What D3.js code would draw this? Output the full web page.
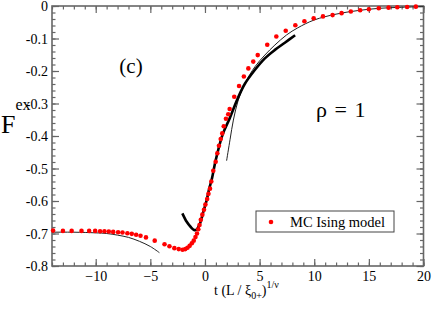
<!DOCTYPE html>
<html>
<head>
<meta charset="utf-8">
<script src="https://cdn.jsdelivr.net/npm/d3@7"></script>
<style>
  body { margin: 0; background: #fff; }
  svg { display: block; }
  text { font-family: 'Liberation Serif', Times, serif; fill: #000; }
</style>
</head>
<body>
<div class="chart"></div>
<script>
// data
const xTicks = [-10, -5, 0, 5, 10, 15, 20];
const yTicks = [0, -0.1, -0.2, -0.3, -0.4, -0.5, -0.6, -0.7, -0.8];
const yTickLabels = ['0', '-0.1', '-0.2', '-0.3', '-0.4', '-0.5', '-0.6', '-0.7', '-0.8'];

// MC Ising model (red dots)
const mcT = [-13.9, -13.0, -12.2, -11.3, -10.6, -10.05, -9.6, -9.2, -8.8, -8.4, -7.95, -7.55, -7.1, -6.7, -6.3, -5.9, -5.4, -4.6,
  -3.7, -3.25, -2.8, -2.4, -2.05, -1.8, -1.6, -1.4, -1.2, -1.03, -0.87, -0.73, -0.61, -0.5, -0.38, -0.24, -0.09,
  0.04, 0.2, 0.32, 0.46, 0.58, 0.76, 0.98, 1.13, 1.28, 1.44, 1.58, 1.72, 1.92, 2.13, 2.26, 2.68, 3.12, 3.56, 3.97,
  4.42, 4.83, 5.7, 6.53, 7.39, 8.27, 9.1, 9.95, 10.8, 11.68, 12.5, 13.35, 14.2, 15.0, 15.9, 16.8, 17.6, 18.5, 19.3];
const mcF = [-0.691, -0.692, -0.692, -0.692, -0.692, -0.692, -0.693, -0.693, -0.694, -0.695, -0.696, -0.697, -0.699, -0.701, -0.704, -0.707, -0.712, -0.722,
  -0.733, -0.739, -0.745, -0.748, -0.750, -0.748, -0.744, -0.738, -0.730, -0.722, -0.711, -0.700, -0.687, -0.674, -0.658, -0.642, -0.627,
  -0.611, -0.594, -0.578, -0.562, -0.540, -0.507, -0.479, -0.453, -0.430, -0.409, -0.392, -0.370, -0.347, -0.333, -0.317, -0.279, -0.246, -0.217, -0.192,
  -0.171, -0.151, -0.119, -0.094, -0.076, -0.059, -0.047, -0.038, -0.032, -0.028, -0.022, -0.017, -0.013, -0.010, -0.007, -0.005, -0.004, -0.003, -0.002];

// thin line, t < 0 branch
const thinLT = [-14, -12, -10, -9, -8, -7, -6, -5, -4.17];
const thinLF = [-0.696, -0.696, -0.698, -0.700, -0.705, -0.712, -0.724, -0.740, -0.759];

// thick line around the critical point
const thickT = [-2.07, -1.67, -1.3, -1.0, -0.8, -0.6, -0.4, -0.15, 0.16, 0.39, 0.61, 1.0, 1.62, 2.27, 3.03, 3.64, 4.56, 5.48, 6.4, 7.31, 8.25];
const thickF = [-0.638, -0.664, -0.680, -0.689, -0.689, -0.680, -0.664, -0.633, -0.597, -0.562, -0.535, -0.472, -0.395, -0.345, -0.282, -0.240, -0.197, -0.161, -0.135, -0.113, -0.090];

// thin line, t > 0 branch
const thinRT = [1.98, 2.3, 2.6, 3.05, 3.66, 4.57, 5.48, 6.4, 7.47, 8.5, 10, 12, 14, 16, 18, 20];
const thinRF = [-0.476, -0.41, -0.351, -0.289, -0.238, -0.187, -0.151, -0.120, -0.089, -0.067, -0.043, -0.025, -0.014, -0.007, -0.004, -0.002];

const zip = (xs, ys) => xs.map((x, i) => ({t: x, f: ys[i]}));
const serif = "'Liberation Serif', Times, serif";

function draw(){
  const svg_width = 432;
  const svg_height = 309;
  const margin = {top: 6, right: 8.5, bottom: 43, left: 52};
  const width = svg_width - margin.left - margin.right;
  const height = svg_height - margin.top - margin.bottom;

  const svg = d3.select('.chart').append('svg')
    .attr('width', svg_width).attr('height', svg_height)
    .attr('font-family', serif);
  const g = svg.append('g').attr('transform', `translate(${margin.left},${margin.top})`);

  const x = d3.scaleLinear().domain([-14, 20]).range([0, width]);
  const y = d3.scaleLinear().domain([-0.8, 0]).range([height, 0]);

  const axisColor = '#666';

  // minor ticks
  const xMinor = d3.range(-14, 21, 1);
  const yMinor = d3.range(0, 41).map(i => -i * 0.02);
  const minor = [
    [d3.axisBottom(x).tickValues(xMinor), `translate(0,${height})`],
    [d3.axisTop(x).tickValues(xMinor), null],
    [d3.axisLeft(y).tickValues(yMinor), null],
    [d3.axisRight(y).tickValues(yMinor), `translate(${width},0)`]
  ];
  minor.forEach(([ax, tr]) => {
    const a = g.append('g').attr('class', 'minor').call(ax.tickSize(-3.5).tickFormat(''));
    if (tr) a.attr('transform', tr);
  });

  // major ticks
  const xAxis = g.append('g').attr('transform', `translate(0,${height})`)
    .call(d3.axisBottom(x).tickValues(xTicks).tickSize(-7).tickPadding(5).tickFormat(d3.format('d')));
  g.append('g').call(d3.axisTop(x).tickValues(xTicks).tickSize(-7).tickFormat(''));
  const yAxis = g.append('g')
    .call(d3.axisLeft(y).tickValues(yTicks).tickSize(-7).tickPadding(4).tickFormat((d, i) => yTickLabels[i]));
  g.append('g').attr('transform', `translate(${width},0)`)
    .call(d3.axisRight(y).tickValues(yTicks).tickSize(-7).tickFormat(''));

  g.selectAll('.domain').remove();
  g.selectAll('g').attr('font-family', serif).attr('font-size', 14);
  g.selectAll('.tick line').attr('stroke', axisColor).attr('stroke-width', 1.2);
  g.selectAll('.tick text').attr('font-family', serif).attr('fill', '#000');
  xAxis.selectAll('text').attr('dy', '0.71em');
  yAxis.selectAll('text').attr('dy', '0.34em');

  // frame
  g.append('rect').attr('x', 0).attr('y', 0).attr('width', width).attr('height', height)
    .attr('fill', 'none').attr('stroke', axisColor).attr('stroke-width', 1.6);

  const line = d3.line().x(d => x(d.t)).y(d => y(d.f)).curve(d3.curveCatmullRom);

  g.append('path').datum(zip(thinLT, thinLF)).attr('d', line)
    .attr('fill', 'none').attr('stroke', '#222').attr('stroke-width', 1);
  g.append('path').datum(zip(thinRT, thinRF)).attr('d', line)
    .attr('fill', 'none').attr('stroke', '#222').attr('stroke-width', 1);
  g.append('path').datum(zip(thickT, thickF)).attr('d', line)
    .attr('fill', 'none').attr('stroke', '#000').attr('stroke-width', 2.6);

  g.selectAll('.dot').data(zip(mcT, mcF)).enter()
    .append('circle').attr('class', 'dot')
    .attr('cx', d => x(d.t)).attr('cy', d => y(d.f)).attr('r', 2.3)
    .attr('fill', '#ff0000');

  // legend
  const lg = svg.append('g').attr('transform', 'translate(256,211)');
  lg.append('rect').attr('width', 138).attr('height', 21)
    .attr('fill', '#fff').attr('stroke', '#444').attr('stroke-width', 1);
  lg.append('circle').attr('cx', 15).attr('cy', 11).attr('r', 2.3).attr('fill', '#ff0000');
  lg.append('text').attr('x', 34).attr('y', 15.5).attr('font-size', 14.5).text('MC Ising model');

  // annotations
  svg.append('text').attr('x', 131).attr('y', 73).attr('text-anchor', 'middle')
    .attr('font-size', 21).text('(c)');
  svg.append('text').attr('x', 316).attr('y', 117).attr('word-spacing', 2)
    .attr('font-size', 22).text('ρ = 1');

  // y title
  const yt = svg.append('text').attr('x', 1).attr('y', 133).attr('font-size', 26);
  yt.append('tspan').text('F');
  yt.append('tspan').attr('dy', -23).attr('font-size', 16).text('ex');

  // x title
  const xt = svg.append('text').attr('x', 214).attr('y', 295).attr('font-size', 14);
  xt.append('tspan').text('t (L / ξ');
  xt.append('tspan').attr('dy', 4).attr('font-size', 10).text('0+');
  xt.append('tspan').attr('dy', -4).text(')');
  xt.append('tspan').attr('dy', -7).attr('font-size', 10).text('1/ν');
}

draw();
</script>
</body>
</html>
